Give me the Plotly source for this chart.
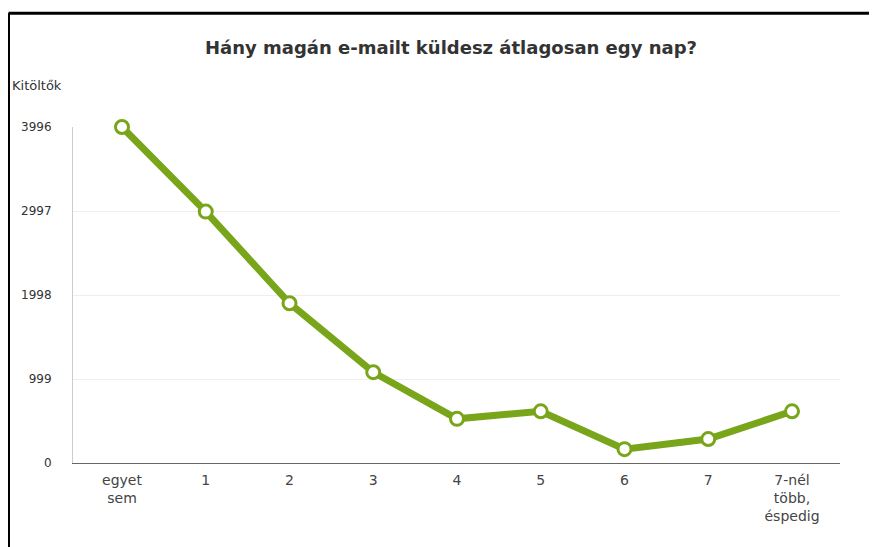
import plotly.graph_objects as go

categories = ["egyet<br>sem", "1", "2", "3", "4", "5", "6", "7", "7-nél<br>több,<br>éspedig"]
values = [3996, 2990, 1900, 1080, 525, 615, 165, 285, 615]
y_ticks = [0, 999, 1998, 2997, 3996]
y_ticktext = ["0", "999", "1998", "2997", "3996"]

title_text = "Hány magán e-mailt küldesz átlagosan egy nap?"
y_title = "Kitöltők"

green = "#78a519"
font_family = "DejaVu Sans, Verdana, sans-serif"

fig = go.Figure()
fig.add_trace(go.Scatter(
    x=list(range(len(categories))),
    y=values,
    mode="lines+markers",
    line=dict(color=green, width=7),
    marker=dict(size=13, color="white", line=dict(color=green, width=3)),
    cliponaxis=False,
    hoverinfo="x+y",
))

fig.update_layout(
    width=869, height=539,
    margin=dict(l=65, r=37, t=119, b=84),
    paper_bgcolor="white",
    plot_bgcolor="white",
    showlegend=False,
    font=dict(family=font_family, size=12, color="#444"),
    title=dict(text="<b>" + title_text + "</b>", x=0.5098, xanchor="center",
               y=0.9267, yanchor="middle",
               font=dict(family=font_family, size=18, color="#333")),
    xaxis=dict(
        tickmode="array",
        tickvals=list(range(len(categories))),
        ticktext=categories,
        range=[-0.585, 8.573],
        showgrid=False,
        zeroline=False,
        showline=True, linecolor="#666", linewidth=1,
        ticks="outside", ticklen=0, ticklabelstandoff=4,
        tickfont=dict(size=14, color="#444"),
        fixedrange=True,
    ),
    yaxis=dict(
        tickmode="array",
        tickvals=y_ticks,
        ticktext=y_ticktext,
        range=[0, 3996],
        showgrid=True, gridcolor="#eeeeee", gridwidth=1,
        zeroline=False,
        showline=True, linecolor="#cccccc", linewidth=1,
        ticks="outside", ticklen=0, ticklabelstandoff=18,
        tickfont=dict(size=12, color="#333"),
        fixedrange=True,
    ),
    shapes=[
        dict(type="line", xref="paper", yref="paper",
             x0=-0.0841, x1=1.1, y0=1.3384, y1=1.3384,
             line=dict(color="black", width=3)),
        dict(type="line", xref="paper", yref="paper",
             x0=-0.0841, x1=-0.0841, y0=1.3384, y1=-0.3,
             line=dict(color="black", width=3)),
    ],
    annotations=[
        dict(text=y_title, xref="paper", yref="paper",
             x=-0.0821, y=1.125, xanchor="left", yanchor="middle",
             showarrow=False, font=dict(family=font_family, size=13, color="#333")),
    ],
)

fig.write_html("out.html")
